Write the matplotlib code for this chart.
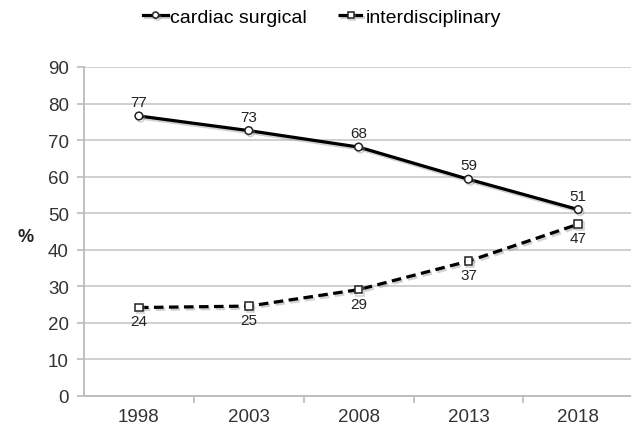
import numpy as np
import matplotlib
matplotlib.use("Agg")
from matplotlib import pyplot as plt
import matplotlib.patheffects as pe

# Données
years = ["1998", "2003", "2008", "2013", "2018"]
cardiac = [76.6, 72.6, 68.1, 59.3, 51.0]
interdis = [24.2, 24.6, 29.1, 36.9, 47.0]
yticks = [0, 10, 20, 30, 40, 50, 60, 70, 80, 90]

plt.rcParams['font.family'] = ['Liberation Sans', 'DejaVu Sans']

fig = plt.figure(figsize=(6.31, 4.31), dpi=100)
ax = fig.add_axes([84/631, 34/431, 1 - 84/631, 329/431])

x = np.arange(len(years))
shadow = [pe.SimpleLineShadow(offset=(1.2, -1.5), shadow_color='#999999', alpha=0.45), pe.Normal()]

l1, = ax.plot(x, cardiac, color='black', lw=2.3, marker='o', ms=5.5,
              mfc='white', mec='#222222', mew=1.1, label='cardiac surgical',
              path_effects=shadow, zorder=3)
l2, = ax.plot(x, interdis, color='black', lw=2.3, ls=(0, (3.0, 1.7)), marker='s', ms=5.5,
              mfc='white', mec='#222222', mew=1.1, label='interdisciplinary',
              path_effects=shadow, zorder=3)

for i in range(len(years)):
    ax.annotate(f"{round(cardiac[i])}", (x[i], cardiac[i]), xytext=(0, 5),
                textcoords='offset points', ha='center', va='bottom',
                fontsize=11, color='#222222')
    ax.annotate(f"{round(interdis[i])}", (x[i], interdis[i]), xytext=(0, -5),
                textcoords='offset points', ha='center', va='top',
                fontsize=11, color='#222222')

ax.set_ylim(0, 90)
ax.set_yticks(yticks)
ax.set_xlim(-0.5, 4.48)
ax.set_xticks(x)
ax.set_xticklabels(years)
ax.set_xticks(np.arange(0.5, 4.5, 1), minor=True)
ax.tick_params(axis='x', which='major', length=0, pad=9, labelsize=13.5, labelcolor='#333333')
ax.tick_params(axis='x', which='minor', length=5, color='#bbbbbb', width=1.2)
ax.tick_params(axis='y', length=5, color='#bbbbbb', width=1.2, pad=6, labelsize=13.5, labelcolor='#333333')

ax.grid(True, axis='y', color='#cccccc', lw=1.3)
ax.set_axisbelow(True)
for s in ['top', 'right']:
    ax.spines[s].set_visible(False)
for s in ['left', 'bottom']:
    ax.spines[s].set_color('#bbbbbb')
    ax.spines[s].set_linewidth(1.3)

fig.text(17/631, 1 - 238/431, "%", fontsize=13, fontweight='bold', ha='left', va='center', color='#222222')

fig.legend(handles=[l1, l2], loc='center', bbox_to_anchor=(0.51, 0.958), ncol=2,
           frameon=False, fontsize=14, handlelength=1.3, handletextpad=0.1,
           columnspacing=1.6, markerscale=0.8)

fig.savefig("out.png", dpi=100)
